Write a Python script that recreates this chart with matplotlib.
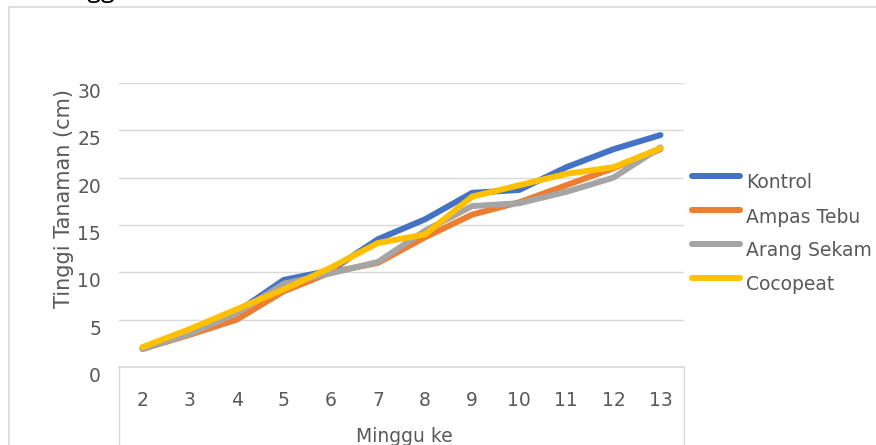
import matplotlib
matplotlib.use('Agg')
import matplotlib.pyplot as plt
from matplotlib.lines import Line2D

# ---- data ----
weeks = [2, 3, 4, 5, 6, 7, 8, 9, 10, 11, 12, 13]
kontrol = [2.0, 3.8, 5.8, 9.2, 10.2, 13.5, 15.6, 18.4, 18.7, 21.1, 23.0, 24.5]
ampas_tebu = [1.9, 3.4, 5.0, 8.0, 10.0, 11.0, 13.7, 16.1, 17.4, 19.2, 21.0, 23.0]
arang_sekam = [1.9, 3.5, 5.7, 8.8, 9.9, 11.1, 14.4, 17.0, 17.3, 18.5, 20.0, 23.2]
cocopeat = [2.1, 4.0, 6.1, 8.2, 10.5, 13.1, 14.0, 18.0, 19.2, 20.4, 21.1, 23.1]
series_names = ['Kontrol', 'Ampas Tebu', 'Arang Sekam', 'Cocopeat']
y_ticks = [0, 5, 10, 15, 20, 25, 30]
x_label = 'Minggu ke'
y_label = 'Tinggi Tanaman (cm)'
title = 'Tinggi Tanaman'

colors = ['#4472C4', '#ED7D31', '#A5A5A5', '#FFC000']
txt_color = '#595959'
grid_color = '#D9D9D9'

plt.rcParams['font.family'] = ['DejaVu Sans']

W, H = 876, 445
fig = plt.figure(figsize=(W / 100, H / 100), dpi=100)

def fx(px):
    return px / W

def fy(py):
    return 1 - py / H

# outer chart border (left and top visible)
fig.add_artist(Line2D([fx(9), fx(9)], [fy(7), fy(460)], color=grid_color, lw=1.2))
fig.add_artist(Line2D([fx(9), fx(880)], [fy(7), fy(7)], color=grid_color, lw=1.2))

# clipped chart title (only the descenders are visible, as in the reference)
fig.text(fx(52), fy(-3), title, fontsize=18, color='#000000', ha='left', va='baseline',
         family=['Open Sans', 'DejaVu Sans'])

ax = fig.add_axes([fx(119), fy(367), fx(684) - fx(119), fy(83) - fy(367)])
ax.set_xlim(1.5, 13.5)
ax.set_ylim(0, 30)
for s in ax.spines.values():
    s.set_visible(False)

ax.set_yticks(y_ticks)
ax.yaxis.grid(True, color=grid_color, lw=1.0)
ax.set_axisbelow(True)
ax.tick_params(axis='y', length=0, pad=13, labelsize=13.5, labelcolor=txt_color)
for lbl in ax.get_yticklabels():
    lbl.set_va('top')

ax.set_xticks(weeks)
ax.set_xticklabels([str(w) for w in weeks])
ax.tick_params(axis='x', length=0, pad=17, labelsize=13.5, labelcolor=txt_color)

# zero line and frame of the category axis below it
ax.axhline(0, color=grid_color, lw=1.2, clip_on=False, zorder=1)
ax.plot([0, 0], [0, -0.4], transform=ax.transAxes, color=grid_color, lw=1.0, clip_on=False)
ax.plot([1, 1], [0, -0.4], transform=ax.transAxes, color=grid_color, lw=1.0, clip_on=False)

all_series = [kontrol, ampas_tebu, arang_sekam, cocopeat]
for vals, name, c in zip(all_series, series_names, colors):
    ax.plot(weeks, vals, color=c, lw=4.3, solid_capstyle='round',
            solid_joinstyle='round', label=name, zorder=3)

# axis titles
fig.text(fx(404), fy(442), x_label, fontsize=13.5, color=txt_color, ha='center', va='baseline')
fig.text(fx(64), fy(199), y_label, fontsize=15, color=txt_color, ha='center', va='center',
         rotation=90)

# legend (Excel style: text sits slightly below the handle)
row0, row_gap = 176, 34
for i, (name, c) in enumerate(zip(series_names, colors)):
    yy = row0 + i * row_gap
    fig.add_artist(Line2D([fx(692), fx(740)], [fy(yy), fy(yy)], color=c, lw=4.3,
                          solid_capstyle='round'))
    fig.text(fx(746), fy(yy + 7), name, fontsize=13.5, color=txt_color, ha='left', va='center')

fig.savefig('out.png', dpi=100)
